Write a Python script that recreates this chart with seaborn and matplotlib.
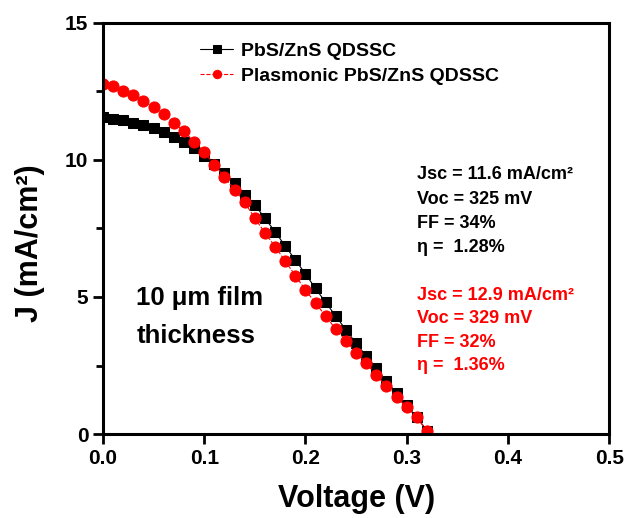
import numpy as np
import pandas as pd
import matplotlib
matplotlib.use("Agg")
import matplotlib.pyplot as plt
from matplotlib.ticker import MultipleLocator
import seaborn as sns

# === Data ===
voltage = np.round(np.arange(0, 0.325, 0.01), 2)

j_pbs = [11.58, 11.50, 11.46, 11.36, 11.28, 11.16, 11.01, 10.85, 10.67, 10.42,
         10.16, 9.84, 9.52, 9.16, 8.72, 8.36, 7.87, 7.38, 6.86, 6.35,
         5.84, 5.31, 4.80, 4.30, 3.80, 3.31, 2.85, 2.40, 1.93, 1.49,
         1.05, 0.61, 0.13]

j_plasmonic = [12.77, 12.70, 12.53, 12.35, 12.16, 11.92, 11.66, 11.35, 11.04, 10.67,
               10.29, 9.83, 9.37, 8.91, 8.45, 7.87, 7.34, 6.84, 6.31, 5.78,
               5.26, 4.77, 4.31, 3.82, 3.41, 2.97, 2.58, 2.15, 1.75, 1.36,
               0.97, 0.61, 0.11]

labels = ['PbS/ZnS QDSSC', 'Plasmonic PbS/ZnS QDSSC']
stats_pbs = ['Jsc = 11.6 mA/cm²', 'Voc = 325 mV', 'FF = 34%', 'η =  1.28%']
stats_plasmonic = ['Jsc = 12.9 mA/cm²', 'Voc = 329 mV', 'FF = 32%', 'η =  1.36%']

# === Style ===
sns.set_style('ticks')
plt.rcParams['font.family'] = ['Liberation Sans', 'DejaVu Sans']
plt.rcParams['font.weight'] = 'bold'
for k in ['text.color', 'axes.labelcolor', 'xtick.color', 'ytick.color', 'axes.edgecolor']:
    plt.rcParams[k] = 'black'

fig = plt.figure(figsize=(6.28, 5.18), dpi=100)
ax = fig.add_axes([0.164, 0.162, 0.806, 0.794])

sns.lineplot(x=voltage, y=j_pbs, ax=ax, color='black', marker='s', markersize=7,
             markeredgecolor='black', linewidth=0.8, label=labels[0])
sns.lineplot(x=voltage, y=j_plasmonic, ax=ax, color='red', marker='o', markersize=8,
             markeredgecolor='red', linewidth=0.8, linestyle='--', label=labels[1])

ax.set_xlim(0, 0.5)
ax.set_ylim(0, 15)
ax.xaxis.set_major_locator(MultipleLocator(0.1))
ax.yaxis.set_major_locator(MultipleLocator(5))
ax.yaxis.set_minor_locator(MultipleLocator(2.5))
ax.xaxis.set_major_formatter(plt.FuncFormatter(lambda v, p: f'{v:.1f}'))

for s in ax.spines.values():
    s.set_linewidth(2.2)
    s.set_visible(True)
ax.tick_params(axis='both', which='major', length=7, width=2, labelsize=15)
ax.tick_params(axis='y', which='minor', length=5, width=2)
for lbl in ax.get_xticklabels() + ax.get_yticklabels():
    lbl.set_fontweight('bold')

ax.set_xlabel('Voltage (V)', fontsize=22, fontweight='bold', labelpad=12)
ax.set_ylabel('J (mA/cm²)', fontsize=22, fontweight='bold')
ax.yaxis.set_label_coords(-0.115, 0.465)

leg = ax.legend(loc='upper left', bbox_to_anchor=(0.165, 0.985), frameon=False,
                prop={'size': 14, 'weight': 'bold'}, handlelength=1.7,
                handletextpad=0.4, borderaxespad=0.3, labelspacing=0.35,
                markerscale=0.75)

# === Annotations ===
for i, t in enumerate(stats_pbs):
    ax.text(0.31, 9.45 - i * 0.88, t, fontsize=13, fontweight='bold',
            color='black', va='center')
for i, t in enumerate(stats_plasmonic):
    ax.text(0.31, 5.07 - i * 0.86, t, fontsize=13, fontweight='bold',
            color='red', va='center')

ax.text(0.033, 4.27, '10 μm film\nthickness', fontsize=18.5, fontweight='bold',
        linespacing=1.75, va='center')

fig.savefig('out.png', dpi=100)
